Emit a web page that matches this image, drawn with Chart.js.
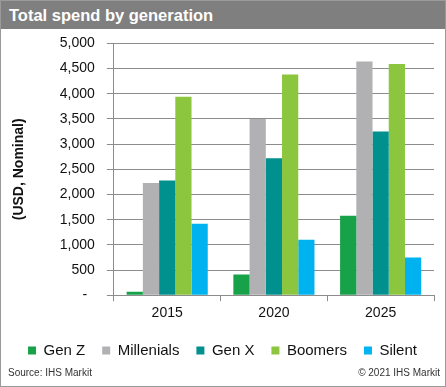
<!DOCTYPE html>
<html>
<head>
<meta charset="utf-8">
<script src="https://cdn.jsdelivr.net/npm/chart.js@4/dist/chart.umd.min.js"></script>
<style>
  body { margin: 0; background: #fff; }
  #frame { position: relative; width: 444px; height: 385px; border: 1px solid #9a9a9a; overflow: hidden; font-family: Arial, "Liberation Sans", sans-serif; }
  #head { position: absolute; left: 0; top: 0; width: 444px; height: 28px; background: #7f7f7f; color: #fff; font-weight: bold; font-size: 16.5px; line-height: 28px; padding-left: 8px; box-sizing: border-box; }
  #wrap { position: absolute; left: 0; top: 22px; width: 444px; height: 345px; }
  #foot { position: absolute; left: 7px; right: 5px; top: 366px; font-size: 10px; color: #333; }
  #foot span { float: right; }
</style>
</head>
<body>
<div id="frame">
  <div id="head">Total spend by generation</div>
  <div id="wrap"><canvas id="chart"></canvas></div>
  <div id="foot">Source: IHS Markit<span>© 2021 IHS Markit</span></div>
</div>
<script>
// Categories
var years = ['2015', '2020', '2025'];
// Series values (USD, nominal)
var genZ = [70, 410, 1580];
var millenials = [2230, 3500, 4640];
var genX = [2280, 2720, 3250];
var boomers = [3940, 4380, 4590];
var silent = [1420, 1100, 750];
var seriesNames = ['Gen Z', 'Millenials', 'Gen X', 'Boomers', 'Silent'];
var colors = ['#17a24a', '#b1b1b4', '#00918e', '#8cc63e', '#00b2ef'];

var allSeries = [genZ, millenials, genX, boomers, silent];
var datasets = [];
for (var i = 0; i < allSeries.length; i++) {
  datasets.push({
    label: seriesNames[i],
    data: allSeries[i],
    backgroundColor: colors[i],
    borderWidth: 0,
    categoryPercentage: 0.76,
    barPercentage: 1.0
  });
}

Chart.defaults.font.family = 'Arial, "Liberation Sans", sans-serif';
Chart.defaults.color = '#111';

new Chart(document.getElementById('chart'), {
  type: 'bar',
  data: { labels: years, datasets: datasets },
  options: {
    responsive: true,
    maintainAspectRatio: false,
    animation: false,
    layout: { padding: { top: 2, right: 11, left: 10, bottom: 0 } },
    plugins: {
      tooltip: { enabled: false },
      legend: {
        position: 'bottom',
        labels: {
          boxWidth: 8, boxHeight: 8,
          font: { size: 15 },
          padding: 17,
          color: '#111'
        }
      }
    },
    scales: {
      x: {
        grid: { drawOnChartArea: false, offset: true, tickLength: 6, color: '#8c8c8c' },
        border: { color: '#8c8c8c' },
        ticks: { font: { size: 14 }, padding: 4, color: '#111' }
      },
      y: {
        min: 0, max: 5000,
        grid: { color: '#8c8c8c', tickLength: 7 },
        border: { color: '#8c8c8c' },
        ticks: {
          stepSize: 500,
          autoSkip: false,
          font: { size: 14 },
          padding: 12,
          color: '#111',
          callback: function (v) { return v === 0 ? '-  ' : v.toLocaleString('en-US'); }
        },
        title: {
          display: true,
          text: '(USD, Nominal)',
          font: { size: 14, weight: 'bold' },
          padding: { top: 0, bottom: 20 },
          color: '#111'
        }
      }
    }
  }
});
</script>
</body>
</html>
